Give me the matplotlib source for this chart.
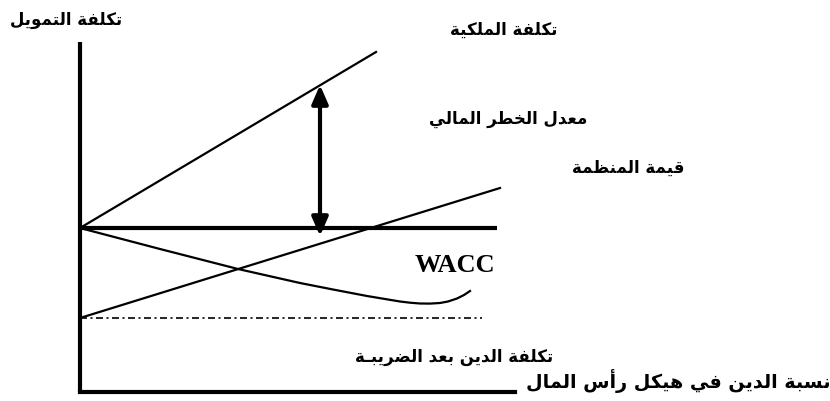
import matplotlib

matplotlib.use("Agg")

import matplotlib.pyplot as plt

# --- text ---------------------------------------------------------------
Y_LABEL = "تكلفة التمويل"
X_LABEL = "نسبة الدين في هيكل رأس المال"
EQUITY_LABEL = "تكلفة الملكية"
RISK_LABEL = "معدل الخطر المالي"
VALUE_LABEL = "قيمة المنظمة"
WACC_LABEL = "WACC"
DEBT_LABEL = "تكلفة الدين بعد الضريبـة"

# --- data (schematic units, origin at the axes corner) -----------------
equity_x = [0.0, 2.96]
equity_y = [1.64, 3.40]

wacc_flat_x = [0.0, 4.17]
wacc_flat_y = [1.64, 1.64]

rising_x = [0.0, 4.20]
rising_y = [0.74, 2.04]

curve_x = [0.0, 0.80, 1.58, 2.20, 2.53, 2.87, 3.05, 3.20, 3.30, 3.40, 3.50, 3.60, 3.68, 3.77, 3.84, 3.90]
curve_y = [1.64, 1.43, 1.23, 1.09, 1.025, 0.96, 0.93, 0.905, 0.893, 0.885, 0.884, 0.89, 0.905, 0.935, 0.97, 1.01]

debt_x = [0.0, 4.02]
debt_y = [0.74, 0.74]

arrow_x = 2.40
arrow_top = 3.07
arrow_bottom = 1.56

axis_y_top = 3.50
axis_x_end = 4.35

# --- arabic shaping (presentation forms, visual order) -----------------
DUAL = {
    "ب": 0xFE8F, "ت": 0xFE95, "خ": 0xFEA5, "س": 0xFEB1, "ض": 0xFEBD,
    "ط": 0xFEC1, "ظ": 0xFEC5, "ع": 0xFEC9, "ف": 0xFED1, "ق": 0xFED5,
    "ك": 0xFED9, "ل": 0xFEDD, "م": 0xFEE1, "ن": 0xFEE5, "ه": 0xFEE9,
    "ي": 0xFEF1,
}
RIGHT = {
    "ا": 0xFE8D, "أ": 0xFE83, "ة": 0xFE93, "د": 0xFEA9, "ر": 0xFEAD,
    "و": 0xFEED,
}
TATWEEL = "ـ"


def joins_left(ch):
    return ch in DUAL or ch == TATWEEL


def joins_any(ch):
    return ch in DUAL or ch in RIGHT or ch == TATWEEL


def shape(text):
    out = []
    for i, ch in enumerate(text):
        prev = text[i - 1] if i > 0 else " "
        nxt = text[i + 1] if i + 1 < len(text) else " "
        j_prev = joins_left(prev)
        if ch in DUAL:
            j_next = joins_any(nxt)
            base = DUAL[ch]
            if j_prev and j_next:
                out.append(chr(base + 3))
            elif j_prev:
                out.append(chr(base + 1))
            elif j_next:
                out.append(chr(base + 2))
            else:
                out.append(chr(base))
        elif ch in RIGHT:
            out.append(chr(RIGHT[ch] + (1 if j_prev else 0)))
        else:
            out.append(ch)
    return "".join(reversed(out))


# --- figure -------------------------------------------------------------
fig = plt.figure(figsize=(8.3, 4.01), dpi=100)
ax = fig.add_axes([0, 0, 1, 1])
ax.set_xlim(-0.80, 7.50)
ax.set_ylim(-0.09, 3.92)
ax.axis("off")

# axes
ax.plot([0, 0], [0, axis_y_top], color="black", lw=3.0, solid_capstyle="butt")
ax.plot([0, axis_x_end], [0, 0], color="black", lw=3.0, solid_capstyle="projecting")

ax.plot(equity_x, equity_y, color="black", lw=1.6)
ax.plot(wacc_flat_x, wacc_flat_y, color="black", lw=3.0, solid_capstyle="butt")
ax.plot(rising_x, rising_y, color="black", lw=1.6)
ax.plot(curve_x, curve_y, color="black", lw=1.6, solid_joinstyle="round")
ax.plot(debt_x, debt_y, color="black", lw=1.2, dashes=(4.2, 2.1, 1.2, 2.1))

ax.annotate(
    "",
    xy=(arrow_x, arrow_bottom),
    xytext=(arrow_x, arrow_top),
    arrowprops=dict(
        arrowstyle="<|-|>,head_length=0.8,head_width=0.35",
        lw=3.0,
        color="black",
        shrinkA=0,
        shrinkB=0,
        mutation_scale=14,
    ),
)

arabic = dict(family=["DejaVu Sans"], fontweight="bold", fontsize=12, ha="right", va="center")
ax.text(0.42, 3.72, shape(Y_LABEL), **arabic)
ax.text(4.78, 3.62, shape(EQUITY_LABEL), **arabic)
ax.text(5.07, 2.73, shape(RISK_LABEL), **arabic)
ax.text(6.05, 2.24, shape(VALUE_LABEL), **arabic)
ax.text(4.73, 0.35, shape(DEBT_LABEL), **arabic)
ax.text(7.50, 0.11, shape(X_LABEL), **dict(arabic, fontsize=13.8))
ax.text(3.35, 1.20, WACC_LABEL, family="Liberation Serif", fontweight="bold",
        fontsize=19, ha="left", va="baseline")

fig.savefig("out.png", dpi=100)
